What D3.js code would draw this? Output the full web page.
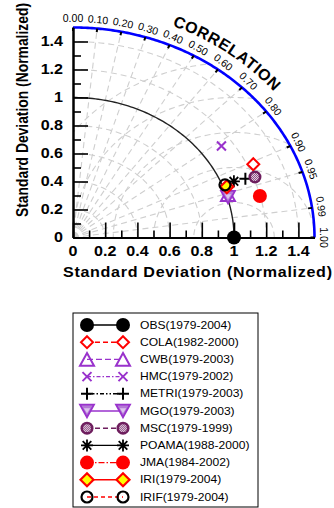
<!DOCTYPE html>
<html>
<head>
<meta charset="utf-8">
<script src="https://cdn.jsdelivr.net/npm/d3@7"></script>
<style>
  html, body { margin: 0; padding: 0; background: #fff; }
  svg { display: block; font-family: "Liberation Sans", Arial, Helvetica, sans-serif; }
</style>
</head>
<body>
<svg id="chart" width="334" height="508"></svg>
<script>
// Taylor diagram data: normalized standard deviation and correlation per model
const models = ["OBS(1979-2004)", "COLA(1982-2000)", "CWB(1979-2003)", "HMC(1979-2002)",
  "METRI(1979-2003)", "MGO(1979-2003)", "MSC(1979-1999)", "POAMA(1988-2000)",
  "JMA(1984-2002)", "IRI(1979-2004)", "IRIF(1979-2004)"];
const stdRatio = [1.0, 1.236, 1.01, 1.13, 1.15, 1.005, 1.21, 1.077, 1.198, 1.022, 1.016];
const correlation = [1.0, 0.906, 0.953, 0.816, 0.931, 0.958, 0.934, 0.928, 0.969, 0.935, 0.929];

const corrTicks = [0, 0.1, 0.2, 0.3, 0.4, 0.5, 0.6, 0.7, 0.8, 0.9, 0.95, 0.99, 1.0];
const corrTickLabels = ["0.00", "0.10", "0.20", "0.30", "0.40", "0.50", "0.60", "0.70", "0.80", "0.90", "0.95", "0.99", "1.00"];
const stdTicks = [0, 0.2, 0.4, 0.6, 0.8, 1.0, 1.2, 1.4];
const stdTickLabels = ["0", "0.2", "0.4", "0.6", "0.8", "1", "1.2", "1.4"];
const stdMinorTicks = [0.1, 0.3, 0.5, 0.7, 0.9, 1.1, 1.3];
const stdGridArcs = [0.2, 0.4, 0.6, 0.8, 1.2, 1.4];
const rmsGridArcs = [0.25, 0.5, 0.75, 1.0, 1.25];
const maxStd = 1.5;

// Marker and line style per series
const PURPLE = "#9932cc";
const styles = {
  "OBS":   { kind: "dot",        color: "#000",   dash: null,          r: 7 },
  "COLA":  { kind: "diamond",    color: "#ff0000", dash: "5,3",        r: 6 },
  "CWB":   { kind: "triUp",      color: PURPLE,   dash: "6,3",         r: 7 },
  "HMC":   { kind: "cross",      color: PURPLE,   dash: "4,2,1.5,2",   r: 4.5 },
  "METRI": { kind: "plus",       color: "#000",   dash: "4,2,1.5,2,1.5,2", r: 6 },
  "MGO":   { kind: "triDown",    color: PURPLE,   dash: null,          r: 7 },
  "MSC":   { kind: "msc",        color: "#6e1e5e", dash: "5,3",        r: 6.5 },
  "POAMA": { kind: "star",       color: "#000",   dash: null,          r: 6 },
  "JMA":   { kind: "dot",        color: "#ff0000", dash: "6,2,1.5,2",  r: 7 },
  "IRI":   { kind: "diamondY",   color: "#ff0000", dash: null,         r: 6.5 },
  "IRIF":  { kind: "ring",       color: "#000",   dash: "4,3",         r: 5.5, line: "#ff0000" }
};

const svg = d3.select("#chart");
const defs = svg.append("defs");
const pat = defs.append("pattern").attr("id", "check").attr("width", 2).attr("height", 2)
  .attr("patternUnits", "userSpaceOnUse");
pat.append("rect").attr("width", 2).attr("height", 2).attr("fill", "#e8d8e8");
pat.append("rect").attr("width", 1).attr("height", 1).attr("fill", "#8a4a7e");
pat.append("rect").attr("x", 1).attr("y", 1).attr("width", 1).attr("height", 1).attr("fill", "#8a4a7e");

const x = d3.scaleLinear().domain([0, maxStd]).range([73, 314.5]);
const y = d3.scaleLinear().domain([0, maxStd]).range([237.5, 27.5]);

// polar (std, corr) -> screen
const P = (r, c) => [x(r * c), y(r * Math.sqrt(Math.max(0, 1 - c * c)))];
const line = d3.line();
const arcPts = (r, a0, a1, n = 90) => d3.range(n + 1).map(i => {
  const a = a0 + (a1 - a0) * i / n;
  return [x(r * Math.cos(a)), y(r * Math.sin(a))];
});

const grid = svg.append("g").attr("fill", "none").attr("stroke", "#cfcfcf")
  .attr("stroke-width", 1.1).attr("stroke-dasharray", "6,4");

// correlation rays
corrTicks.filter(c => c > 0 && c < 1).forEach(c => {
  grid.append("path").attr("d", line([P(0, c), P(maxStd, c)]));
});
// std arcs centred on the origin
stdGridArcs.forEach(r => grid.append("path").attr("d", line(arcPts(r, 0, Math.PI / 2))));
// centred RMS difference arcs around the reference point
rmsGridArcs.forEach(R => {
  const pts = d3.range(181).map(i => {
    const a = Math.PI * i / 180;
    return [1 + R * Math.cos(a), R * Math.sin(a)];
  });
  const rms = d3.line().defined(d => Math.hypot(d[0], d[1]) <= maxStd && d[0] >= 0)
    .x(d => x(d[0])).y(d => y(d[1]));
  grid.append("path").attr("d", rms(pts));
});

// reference arc (std = 1)
svg.append("path").attr("d", line(arcPts(1, 0, Math.PI / 2)))
  .attr("fill", "none").attr("stroke", "#222").attr("stroke-width", 1.4);

// outer correlation arc
svg.append("path").attr("d", line(arcPts(maxStd, 0, Math.PI / 2, 180)))
  .attr("fill", "none").attr("stroke", "#0000ff").attr("stroke-width", 2.6);

// correlation tick marks and labels
corrTicks.forEach((c, i) => {
  const a = Math.acos(c);
  const [x0, y0] = P(maxStd, c);
  const [x1, y1] = P(maxStd - 0.025, c);
  svg.append("line").attr("x1", x0).attr("y1", y0).attr("x2", x1).attr("y2", y1)
    .attr("stroke", "#000").attr("stroke-width", 2);
  const off = 9;
  const lx = x0 + off * Math.cos(a), ly = y0 - off * Math.sin(a);
  const rot = 90 - a * 180 / Math.PI;
  svg.append("text").attr("transform", `translate(${lx},${ly}) rotate(${rot})`)
    .attr("text-anchor", "middle").attr("dy", "0.35em")
    .attr("font-size", 10.5).attr("fill", "#000").text(corrTickLabels[i]);
});

// CORRELATION title along the arc
const titleArc = d3.range(61).map(i => {
  const a = (69 - 31 * i / 60) * Math.PI / 180;
  return [x(0) + (x(maxStd) - x(0) + 19) * Math.cos(a), y(0) - (y(0) - y(maxStd) + 19) * Math.sin(a)];
});
defs.append("path").attr("id", "corrTitlePath").attr("d", line(titleArc));
svg.append("text").attr("font-size", 16).attr("font-weight", "bold").attr("letter-spacing", 0.6)
  .append("textPath").attr("href", "#corrTitlePath").attr("startOffset", "50%")
  .attr("text-anchor", "middle").text("CORRELATION");

// axes
const SX = 1.15;
const yMajor = svg.append("g").attr("transform", `translate(${x(0)},0)`)
  .call(d3.axisRight(y).tickValues(stdTicks).tickSize(15).tickSizeOuter(0).tickFormat(""));
const yMinor = svg.append("g").attr("transform", `translate(${x(0)},0)`)
  .call(d3.axisRight(y).tickValues(stdMinorTicks).tickSize(8).tickSizeOuter(0).tickFormat(""));
const yLab = svg.append("g").attr("transform", `translate(${x(0)},0)`)
  .call(d3.axisLeft(y).tickValues(stdTicks).tickSize(0).tickPadding(0)
    .tickFormat((d, i) => stdTickLabels[i]));
yLab.select(".domain").remove();
yLab.selectAll("text").attr("x", -10 / SX).attr("transform", `scale(${SX},1)`)
  .attr("font-size", 14).attr("font-weight", "bold").attr("fill", "#000")
  .attr("font-family", "Liberation Sans, Arial, sans-serif");

const xMajor = svg.append("g").attr("transform", `translate(0,${y(0)})`)
  .call(d3.axisTop(x).tickValues(stdTicks).tickSize(15).tickSizeOuter(0).tickFormat(""));
const xMinor = svg.append("g").attr("transform", `translate(0,${y(0)})`)
  .call(d3.axisTop(x).tickValues(stdMinorTicks).tickSize(7).tickSizeOuter(0).tickFormat(""));
const xLab = svg.append("g").attr("transform", `translate(0,${y(0)})`)
  .call(d3.axisBottom(x).tickValues(stdTicks).tickSize(0).tickPadding(9)
    .tickFormat((d, i) => stdTickLabels[i]));
xLab.select(".domain").remove();
xLab.selectAll("text").attr("font-size", 14).attr("font-weight", "bold").attr("fill", "#000")
  .attr("font-family", "Liberation Sans, Arial, sans-serif");
// keep label centres on their ticks after the horizontal stretch
xLab.selectAll(".tick").each(function(d) {
  d3.select(this).attr("transform", `translate(${x(d) / SX},0)`);
});
xLab.attr("transform", `translate(0,${y(0)}) scale(${SX},1)`);

[yMajor, yMinor, xMajor, xMinor].forEach(g => {
  g.selectAll(".tick line").attr("stroke", "#000").attr("stroke-width", 1.6);
  g.select(".domain").attr("stroke", "#000").attr("stroke-width", 2);
});

// axis titles
svg.append("text").attr("transform", `translate(28,110) scale(${SX},1) rotate(-90)`)
  .attr("text-anchor", "middle").attr("font-size", 14).attr("font-weight", "bold")
  .attr("textLength", 214).attr("lengthAdjust", "spacingAndGlyphs")
  .text("Standard Deviation (Normalized)");
svg.append("text").attr("transform", `translate(63,277) scale(${SX},1)`)
  .attr("font-size", 14).attr("font-weight", "bold")
  .attr("textLength", 269 / SX).attr("lengthAdjust", "spacing")
  .text("Standard Deviation (Normalized)");

// marker drawing
function drawMarker(g, st) {
  const r = st.r, c = st.color;
  switch (st.kind) {
    case "dot":
      g.append("circle").attr("r", r).attr("fill", c); break;
    case "ring":
      g.append("circle").attr("r", r).attr("fill", "none").attr("stroke", c).attr("stroke-width", 2.2); break;
    case "diamond":
      g.append("path").attr("d", `M0,${-r}L${r},0L0,${r}L${-r},0Z`).attr("fill", "#fff")
        .attr("stroke", c).attr("stroke-width", 2); break;
    case "diamondY":
      g.append("path").attr("d", `M0,${-r}L${r},0L0,${r}L${-r},0Z`).attr("fill", "#ffff00")
        .attr("stroke", c).attr("stroke-width", 2.2); break;
    case "triUp": {
      const h = r * 0.9;
      g.append("path").attr("d", `M0,${-h}L${r},${h}L${-r},${h}Z`).attr("fill", "none")
        .attr("stroke", c).attr("stroke-width", 2); break;
    }
    case "triDown": {
      const h = r * 0.9;
      g.append("path").attr("d", `M0,${h}L${r},${-h}L${-r},${-h}Z`).attr("fill", "#b47ad6")
        .attr("stroke", c).attr("stroke-width", 1.8);
      g.append("path").attr("d", `M0,${h * 0.35}L${r * 0.45},${-h * 0.45}L${-r * 0.45},${-h * 0.45}Z`)
        .attr("fill", "#ddc4ee"); break;
    }
    case "cross":
      g.append("path").attr("d", `M${-r},${-r}L${r},${r}M${-r},${r}L${r},${-r}`)
        .attr("stroke", c).attr("stroke-width", 2); break;
    case "plus":
      g.append("path").attr("d", `M${-r},0L${r},0M0,${-r}L0,${r}`)
        .attr("stroke", c).attr("stroke-width", 2); break;
    case "star": {
      const d = r * 0.72;
      g.append("path").attr("d", `M${-r},0L${r},0M0,${-r}L0,${r}M${-d},${-d}L${d},${d}M${-d},${d}L${d},${-d}`)
        .attr("stroke", c).attr("stroke-width", 1.8); break;
    }
    case "msc":
      g.append("circle").attr("r", r).attr("fill", c);
      g.append("circle").attr("r", r * 0.6).attr("fill", "url(#check)"); break;
  }
}

// data points
const pts = svg.append("g");
models.forEach((m, i) => {
  const key = m.split("(")[0];
  const [px, py] = P(stdRatio[i], correlation[i]);
  drawMarker(pts.append("g").attr("transform", `translate(${px},${py})`), styles[key]);
});

// legend
const leg = svg.append("g");
leg.append("rect").attr("x", 73).attr("y", 313).attr("width", 185).attr("height", 194)
  .attr("fill", "#fff").attr("stroke", "#000").attr("stroke-width", 1);
const rowY = d3.scalePoint().domain(models).range([325, 497]);
models.forEach((m) => {
  const key = m.split("(")[0];
  const st = styles[key];
  const ry = rowY(m);
  leg.append("line").attr("x1", 87).attr("x2", 123).attr("y1", ry).attr("y2", ry)
    .attr("stroke", st.line || st.color).attr("stroke-width", 1.4)
    .attr("stroke-dasharray", st.dash);
  drawMarker(leg.append("g").attr("transform", `translate(87,${ry})`), st);
  drawMarker(leg.append("g").attr("transform", `translate(123,${ry})`), st);
  leg.append("text").attr("transform", `translate(140,${ry}) scale(1.21,1)`)
    .attr("dy", "0.36em").attr("font-size", 10).attr("fill", "#000").text(m);
});
</script>
</body>
</html>
